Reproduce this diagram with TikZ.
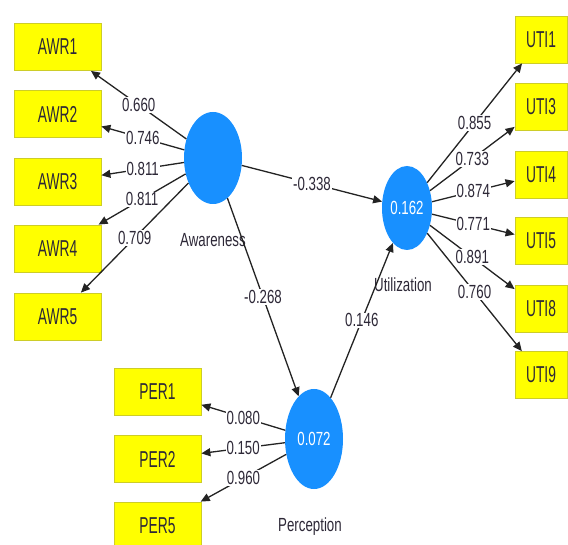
\documentclass[tikz,border=0pt]{standalone}
\usepackage{fontspec}
\setmainfont{Liberation Sans}
\newfontfamily\boxfont[FakeStretch=0.6]{Liberation Sans}
\newfontfamily\labfont[FakeStretch=0.7]{Liberation Sans}
\usetikzlibrary{arrows.meta,shapes.geometric}

\definecolor{ylw}{RGB}{255,255,0}
\definecolor{ylwborder}{RGB}{205,205,40}
\definecolor{plsblue}{RGB}{24,144,255}
\definecolor{linegray}{RGB}{35,35,35}
\definecolor{txt}{RGB}{45,40,55}

\begin{document}
\begin{tikzpicture}[x=1pt,y=-1pt,
  indicator/.style={draw=ylwborder, line width=0.8pt, fill=ylw, minimum width=87pt,
    minimum height=47pt, inner sep=0pt, text=txt,
    font=\boxfont\fontsize{23}{23}\selectfont},
  uindicator/.style={indicator, minimum width=52pt},
  latent/.style={ellipse, fill=plsblue, inner sep=0pt, text=white,
    font=\labfont\fontsize{19}{19}\selectfont},
  lvname/.style={text=txt, inner sep=0pt, font=\labfont\fontsize{19}{19}\selectfont},
  link/.style={draw=linegray, line width=1.3pt, -{Triangle[length=9pt,width=8pt]}},
  wt/.style={fill=white, inner sep=1pt, text=txt, font=\labfont\fontsize{19}{19}\selectfont}]

\clip (0,0) rectangle (568,545);
\fill[white] (0,0) rectangle (568,545);

% indicators of Awareness
\node[indicator] (awr1) at (57.5,47) {AWR1};
\node[indicator] (awr2) at (57.5,114) {AWR2};
\node[indicator] (awr3) at (57.5,182) {AWR3};
\node[indicator] (awr4) at (57.5,248.5) {AWR4};
\node[indicator] (awr5) at (57.5,316.5) {AWR5};

% indicators of Utilization
\node[uindicator] (uti1) at (541,39.5) {UTI1};
\node[uindicator] (uti3) at (541,107) {UTI3};
\node[uindicator] (uti4) at (541,174.5) {UTI4};
\node[uindicator] (uti5) at (541,241) {UTI5};
\node[uindicator] (uti8) at (541,309) {UTI8};
\node[uindicator] (uti9) at (541,375) {UTI9};

% indicators of Perception
\node[indicator] (per1) at (157.5,391.5) {PER1};
\node[indicator] (per2) at (157.5,459) {PER2};
\node[indicator] (per5) at (157.5,525.5) {PER5};

% latent variables
\node[latent, minimum width=58pt, minimum height=92pt] (aw) at (213,158) {};
\node[latent, minimum width=50pt, minimum height=84pt] (ut) at (407,208) {0.162};
\node[latent, minimum width=58pt, minimum height=100pt] (pe) at (314,439) {0.072};

\node[lvname] (awname) at (213,240) {Awareness};
\node[lvname] (utname) at (403,285) {Utilization};
\node[lvname] (pename) at (310,527) {Perception};

% outer loadings
\draw[link] (aw) -- node[wt] {0.660} (awr1);
\draw[link] (aw) -- node[wt] {0.746} (awr2);
\draw[link] (aw) -- node[wt] {0.811} (awr3);
\draw[link] (aw) -- node[wt] {0.811} (awr4);
\draw[link] (aw) -- node[wt] {0.709} (awr5);

\draw[link] (ut) -- node[wt] {0.855} (uti1);
\draw[link] (ut) -- node[wt] {0.733} (uti3);
\draw[link] (ut) -- node[wt] {0.874} (uti4);
\draw[link] (ut) -- node[wt] {0.771} (uti5);
\draw[link] (ut) -- node[wt] {0.891} (uti8);
\draw[link] (ut) -- node[wt] {0.760} (uti9);

\draw[link] (pe) -- node[wt] {0.080} (per1);
\draw[link] (pe) -- node[wt] {0.150} (per2);
\draw[link] (pe) -- node[wt] {0.960} (per5);

% path coefficients
\draw[link] (aw) -- node[wt] {-0.338} (ut);
\draw[link] (aw) -- node[wt] {-0.268} (pe);
\draw[link] (pe) -- node[wt] {0.146} (ut);

\end{tikzpicture}
\end{document}
